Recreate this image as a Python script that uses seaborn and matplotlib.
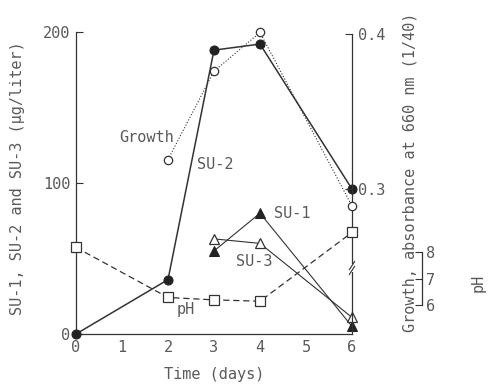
import matplotlib
matplotlib.use("Agg")
import matplotlib.pyplot as plt
import seaborn as sns
import pandas as pd

# ---- data ----
days_su2 = [0, 2, 3, 4, 6]
su2 = [0, 36, 188, 192, 96]
days_su1 = [3, 4, 6]
su1 = [55, 80, 5]
days_su3 = [3, 4, 6]
su3 = [63, 60, 11]
days_growth = [2, 3, 4, 6]
growth = [0.319, 0.376, 0.401, 0.289]
days_ph = [0, 2, 3, 4, 6]
ph = [8.17, 6.30, 6.21, 6.16, 8.73]

x_ticks = [0, 1, 2, 3, 4, 5, 6]
left_ticks = [0, 100, 200]
growth_ticks = [0.3, 0.4]
ph_ticks = [6, 7, 8]

sns.set_style("white")
plt.rcParams['font.family'] = ['DejaVu Sans Mono', 'DejaVu Sans']
TXT = '#5a5a5a'
LN = '#333333'
FS = 11

W, H = 489, 385
fig = plt.figure(figsize=(W / 100, H / 100), dpi=100)
ax = fig.add_axes([76 / W, 1 - 334 / H, 276 / W, 302 / H])
ax2 = ax.twinx()
ax3 = ax.twinx()
for a in (ax, ax2, ax3):
    a.set_facecolor('none')
    a.grid(False)

df_su2 = pd.DataFrame({'day': days_su2, 'v': su2})
df_su1 = pd.DataFrame({'day': days_su1, 'v': su1})
df_su3 = pd.DataFrame({'day': days_su3, 'v': su3})
df_g = pd.DataFrame({'day': days_growth, 'v': growth})
df_ph = pd.DataFrame({'day': days_ph, 'v': ph})

common = dict(x='day', y='v', estimator=None, sort=False, legend=False)
sns.lineplot(data=df_su2, ax=ax, color=LN, lw=1.1, marker='o', ms=6.5,
             markerfacecolor='#222222', markeredgecolor='#222222', clip_on=False, zorder=5, **common)
sns.lineplot(data=df_su1, ax=ax, color=LN, lw=0.8, marker='^', ms=6.5,
             markerfacecolor='#222222', markeredgecolor='#222222', clip_on=False, zorder=5, **common)
sns.lineplot(data=df_su3, ax=ax, color=LN, lw=0.8, marker='^', ms=7,
             markerfacecolor='white', markeredgecolor=LN, markeredgewidth=0.9, clip_on=False, zorder=6, **common)
sns.lineplot(data=df_g, ax=ax2, color=LN, lw=0.8, linestyle=':', marker='o', ms=6,
             markerfacecolor='white', markeredgecolor=LN, markeredgewidth=0.9, clip_on=False, zorder=6, **common)
sns.lineplot(data=df_ph, ax=ax3, color=LN, lw=0.9, linestyle=(0, (5, 3)), marker='s', ms=6.5,
             markerfacecolor='white', markeredgecolor=LN, markeredgewidth=0.9, clip_on=False, zorder=6, **common)

# main axis
ax.set_xlim(0, 6)
ax.set_ylim(0, 200)
ax.set_xticks(x_ticks)
ax.set_xticklabels([str(t) for t in x_ticks])
ax.set_yticks(left_ticks)
ax.set_yticklabels([str(t) for t in left_ticks])
ax.tick_params(axis='both', direction='in', length=5, width=0.8, colors=LN,
               labelcolor=TXT, labelsize=FS, pad=4)
ax.spines['top'].set_visible(False)
ax.spines['right'].set_visible(False)
for s in ('left', 'bottom'):
    ax.spines[s].set_color(LN)
    ax.spines[s].set_linewidth(0.9)
ax.set_xlabel('')
ax.set_ylabel('')

# growth axis
g_lo, g_hi = 0.20645, 0.40129
ax2.set_ylim(g_lo, g_hi)
ax2.set_yticks(growth_ticks)
ax2.set_yticklabels(['0.3', '0.4'])
ax2.tick_params(axis='y', direction='in', length=5, width=0.8, colors=LN,
                labelcolor=TXT, labelsize=FS, pad=4)
for s in ('left', 'top', 'bottom'):
    ax2.spines[s].set_visible(False)
ax2.spines['right'].set_color(LN)
ax2.spines['right'].set_linewidth(0.9)
ax2.spines['right'].set_bounds(g_lo, 0.4)
ax2.set_ylabel('')

# break mark on growth axis
yb = (334 - 268) / 302
ax2.add_patch(plt.Rectangle((0.985, yb - 0.012), 0.03, 0.024, transform=ax2.transAxes,
                            facecolor='white', edgecolor='none', clip_on=False, zorder=8))
for dy in (-0.008, 0.008):
    ax2.plot([0.99, 1.01], [yb + dy - 0.014, yb + dy + 0.014], transform=ax2.transAxes,
             color=LN, lw=0.8, clip_on=False, zorder=9)

# pH axis
p_lo, p_hi = 4.935, 16.22
ax3.set_ylim(p_lo, p_hi)
ax3.set_yticks(ph_ticks)
ax3.set_yticklabels([str(t) for t in ph_ticks])
ax3.tick_params(axis='y', direction='in', length=5, width=0.8, colors=LN,
                labelcolor=TXT, labelsize=FS, pad=3)
for s in ('left', 'top', 'bottom'):
    ax3.spines[s].set_visible(False)
ax3.spines['right'].set_position(('axes', 1 + (422 - 352) / 276))
ax3.spines['right'].set_bounds(6, 8)
ax3.spines['right'].set_color(LN)
ax3.spines['right'].set_linewidth(0.9)
ax3.set_ylabel('')

# series labels
ax.text(1.54, 130, 'Growth', ha='center', va='center', color=TXT, fontsize=FS)
ax.text(3.02, 112, 'SU-2', ha='center', va='center', color=TXT, fontsize=FS)
ax.text(4.70, 79.5, 'SU-1', ha='center', va='center', color=TXT, fontsize=FS)
ax.text(3.87, 47.7, 'SU-3', ha='center', va='center', color=TXT, fontsize=FS)
ax.text(2.39, 16, 'pH', ha='center', va='center', color=TXT, fontsize=FS)

# axis titles
fig.text(18 / W, 1 - 178 / H, 'SU-1, SU-2 and SU-3 (µg/liter)', rotation=90,
         ha='center', va='center', color=TXT, fontsize=FS)
fig.text(410 / W, 1 - 172 / H, 'Growth, absorbance at 660 nm (1/40)', rotation=90,
         ha='center', va='center', color=TXT, fontsize=FS)
fig.text(478 / W, 1 - 283 / H, 'pH', rotation=90,
         ha='center', va='center', color=TXT, fontsize=FS)
fig.text(214 / W, 1 - 375 / H, 'Time (days)', ha='center', va='center',
         color=TXT, fontsize=FS)

fig.savefig('out.png', dpi=100)
